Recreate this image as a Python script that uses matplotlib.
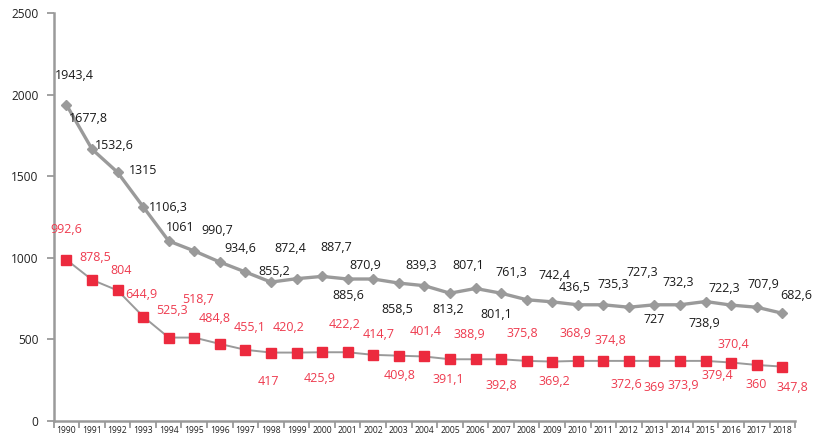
import numpy as np
import matplotlib.pyplot as plt

plt.rcParams['font.family'] = ['Open Sans', 'DejaVu Sans']

years = [str(y) for y in range(1990, 2019)]

# upper series (grey diamonds), positions
grey_vals = [1938, 1666, 1524, 1313, 1103, 1042, 974, 913, 851, 872, 886, 870, 870, 845,
             829, 783, 812, 783, 743, 730, 712, 712, 697, 712, 712, 732, 710, 697, 660]
grey_labels = ['1943,4', '1677,8', '1532,6', '1315', '1106,3', '1061', '990,7', '934,6',
               '855,2', '872,4', '887,7', '885,6', '870,9', '858,5', '839,3', '813,2',
               '807,1', '801,1', '761,3', '742,4', '436,5', '735,3', '727,3', '727',
               '732,3', '738,9', '722,3', '707,9', '682,6']

# lower series (red squares)
red_vals = [988, 865, 800, 640, 511, 511, 472, 436, 419, 419, 421, 421, 405, 400, 395,
            378, 378, 378, 368, 364, 368, 368, 368, 368, 368, 368, 358, 343, 333]
red_labels = ['992,6', '878,5', '804', '644,9', '525,3', '518,7', '484,8', '455,1', '417',
              '420,2', '425,9', '422,2', '414,7', '409,8', '401,4', '391,1', '388,9',
              '392,8', '375,8', '369,2', '368,9', '374,8', '372,6', '369', '373,9',
              '379,4', '370,4', '360', '347,8']

# label offsets in pixels (dx, dy up)
grey_off = [(8, 29), (-4, 31), (-3, 27), (0, 36), (0, 34), (-14, 23), (-3, 32), (-5, 23),
            (3, 11), (-6, 30), (14, 29), (1, -16), (-8, 14), (-2, -26), (-3, 20), (-2, -16),
            (-7, 23), (-5, -21), (-15, 27), (2, 26), (-3, 17), (10, 20), (13, 35), (0, -15),
            (-2, 22), (-1, -22), (-7, 17), (7, 23), (14, 18)]
red_off = [(0, 30), (3, 22), (4, 20), (-2, 22), (3, 27), (4, 38), (-5, 25), (4, 22),
           (-3, -29), (-8, 25), (-2, -26), (-3, 28), (5, 20), (1, -20), (1, 25), (-2, -20),
           (-6, 25), (0, -26), (-4, 27), (2, -20), (-2, 27), (7, 20), (-3, -24), (0, -27),
           (3, -25), (12, -15), (2, 18), (-1, -20), (10, -21)]

red = '#ec2a3e'
red_txt = '#ee3b4f'
grey = '#9a9a9a'

fig = plt.figure(figsize=(8.13, 4.38), dpi=100)
ax = fig.add_axes([0.066, 0.039, 0.912, 0.931])

x = np.arange(len(years))
ax.plot(x, grey_vals, color=grey, lw=2.4, marker='D', ms=5.5, mfc=grey, mec=grey, zorder=3)
ax.plot(x, red_vals, color=grey, lw=1.4, zorder=2)
ax.plot(x, red_vals, ls='none', marker='s', ms=7, mfc=red, mec=red, zorder=4)

for i in range(len(years)):
    ax.annotate(grey_labels[i], (x[i], grey_vals[i]), xytext=grey_off[i],
                textcoords='offset pixels', ha='center', va='center',
                fontsize=9, color='#1a1a1a')
    ax.annotate(red_labels[i], (x[i], red_vals[i]), xytext=red_off[i],
                textcoords='offset pixels', ha='center', va='center',
                fontsize=9, color=red_txt)

ax.set_xlim(-0.5, len(years) - 0.5)
ax.set_ylim(0, 2500)
ax.set_yticks([0, 500, 1000, 1500, 2000, 2500])
ax.set_xticks(x)
ax.set_xticklabels(years, fontsize=6.2, color='#222222')
ax.set_xticks(np.arange(-0.5, len(years), 1), minor=True)
ax.tick_params(axis='x', which='major', length=0, pad=4)
ax.tick_params(axis='x', which='minor', length=5, width=1.3, color=grey)
ax.tick_params(axis='y', length=5, width=1.3, color=grey, labelsize=8.6,
               labelcolor='#222222', pad=6)

for s in ['top', 'right']:
    ax.spines[s].set_visible(False)
for s in ['left', 'bottom']:
    ax.spines[s].set_color(grey)
    ax.spines[s].set_linewidth(1.8)

fig.savefig('out.png', dpi=100)
